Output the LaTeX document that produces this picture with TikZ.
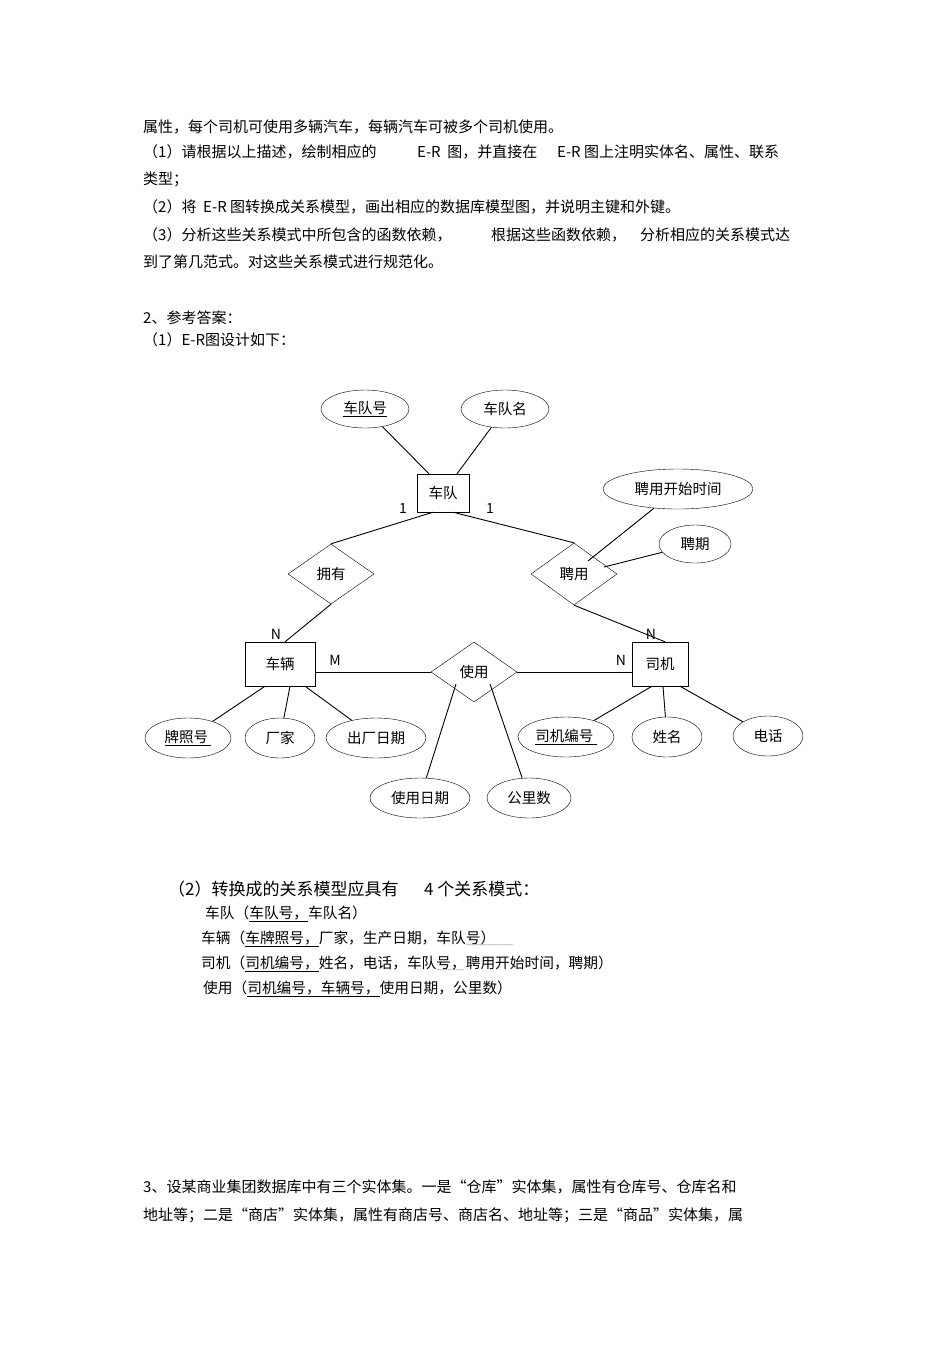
\documentclass[tikz,border=0pt]{standalone}
\usepackage{fontspec}
\setmainfont{Noto Sans CJK SC}
\usetikzlibrary{shapes.geometric}
\newcommand{\myul}[1]{\underline{#1}}
\newcommand{\mywave}[1]{\setbox0\hbox{#1}\rlap{\raisebox{-4pt}{\color{gray}\fontsize{6}{6}\selectfont\leaders\hbox to 2.5pt{\hss\char"7E\hss}\hskip\wd0}}\box0}
\tikzset{
  txt/.style={anchor=west,inner sep=0pt,font=\fontsize{15}{17}\selectfont},
  rtxt/.style={anchor=west,inner sep=0pt,font=\fontsize{14.7}{17}\selectfont},
  attr/.style={draw,ellipse,inner sep=0pt,minimum height=38pt,font=\fontsize{14.5}{16}\selectfont},
  ent/.style={draw,rectangle,inner sep=0pt,minimum height=38pt,font=\fontsize{14.5}{16}\selectfont},
  rel/.style={draw,diamond,aspect=1.45,inner sep=0pt,minimum width=86pt,minimum height=60pt,font=\fontsize{14.5}{16}\selectfont},
  card/.style={inner sep=0pt,font=\fontsize{14}{16}\selectfont},
  ln/.style={line width=0.9pt}
}
\begin{document}
\begin{tikzpicture}[x=1pt,y=-1pt]
\useasboundingbox (0,0) rectangle (950,1345);
\node[txt] (t1) at (143,127) {属性，每个司机可使用多辆汽车，每辆汽车可被多个司机使用。};
\node[txt] (t2a) at (143,152) {（1）请根据以上描述，绘制相应的};
\node[txt] (t2b) at (417,152) {E-R\ \ 图，并直接在};
\node[txt] (t2c) at (557,152) {E-R 图上注明实体名、属性、联系};
\node[txt] (t3) at (143,179) {类型；};
\node[txt] (t4) at (143,207) {（2）将 \ E-R 图转换成关系模型，画出相应的数据库模型图，并说明主键和外键。};
\node[txt] (t5a) at (143,235) {（3）分析这些关系模式中所包含的函数依赖，};
\node[txt] (t5b) at (491,235) {根据这些函数依赖，};
\node[txt] (t5c) at (640,235) {分析相应的关系模式达};
\node[txt] (t6) at (143,262) {到了第几范式。对这些关系模式进行规范化。};
\node[txt] (t7) at (143,318) {2、参考答案：};
\node[txt] (t8) at (143,340) {（1）E-R图设计如下：};

% ER
\node[attr,minimum width=88pt] (a1) at (365,409) {\myul{车队号}};
\node[attr,minimum width=88pt] (a2) at (505,409) {车队名};
\node[ent,minimum width=52pt] (cd) at (443,493) {车队};
\node[attr,minimum width=150pt,minimum height=40pt] (a3) at (678,489) {聘用开始时间};
\node[attr,minimum width=72pt] (a4) at (695,544) {聘期};
\node[rel] (yy) at (331,574) {拥有};
\node[rel,minimum height=62pt] (py) at (574,574) {聘用};
\node[ent,minimum width=70pt,minimum height=44pt] (cl) at (280,664) {车辆};
\node[ent,minimum width=56pt,minimum height=44pt] (sj) at (660,664) {司机};
\node[rel] (sy) at (474,672) {使用};
\node[attr,minimum width=86pt,minimum height=40pt] (b1) at (188,738) {\myul{牌照号\ }};
\node[attr,minimum width=70pt,minimum height=40pt] (b2) at (280,738) {厂家};
\node[attr,minimum width=100pt,minimum height=40pt] (b3) at (376,738) {出厂日期};
\node[attr,minimum width=96pt,minimum height=40pt] (c1) at (566,737) {\myul{司机编号\ }};
\node[attr,minimum width=70pt,minimum height=40pt] (c2) at (667,737) {姓名};
\node[attr,minimum width=70pt,minimum height=40pt] (c3) at (768,736) {电话};
\node[attr,minimum width=100pt,minimum height=40pt] (d1) at (420,798) {使用日期};
\node[attr,minimum width=84pt,minimum height=40pt] (d2) at (529,798) {公里数};
\node[card] (n1) at (403,508) {1};
\node[card] (n2) at (490,508) {1};
\node[card] (n3) at (276,634) {N};
\node[card] (n4) at (335,660) {M};
\node[card] (n5) at (621,660) {N};
\node[card] (n6) at (651,634) {N};
\coordinate (p1) at (588,561);
\coordinate (p2) at (604,567);

\draw[ln] (a1) -- ([xshift=-14pt]cd.north);
\draw[ln] (a2) -- ([xshift=14pt]cd.north);
\draw[ln] ([xshift=-10pt]cd.south) -- (yy.north);
\draw[ln] ([xshift=10pt]cd.south) -- (py.north);
\draw[ln] (a3) -- (p1);
\draw[ln] (a4) -- (p2);
\draw[ln] (yy.south) -- ([xshift=5pt]cl.north);
\draw[ln] (py.south) -- ([xshift=5pt]sj.north);
\draw[ln] (sy.west -| cl.east) -- (sy.west);
\draw[ln] (sy.east) -- (sy.east -| sj.west);
\draw[ln] ([xshift=-15pt]cl.south) -- (b1);
\draw[ln] ([xshift=10pt]cl.south) -- (b2);
\draw[ln] ([xshift=25pt]cl.south) -- (b3);
\draw[ln] ([xshift=-8pt]sj.south) -- (c1);
\draw[ln] ([xshift=3pt]sj.south) -- (c2);
\draw[ln] ([xshift=20pt]sj.south) -- (c3);
\draw[ln] ([xshift=-18pt,yshift=-12pt]sy.center) -- (d1);
\draw[ln] ([xshift=16pt,yshift=-12pt]sy.center) -- (d2);

\node[txt,font=\fontsize{17}{19}\selectfont] (h2) at (168,889) {（2）转换成的关系模型应具有};
\node[txt,font=\fontsize{17}{19}\selectfont] (h2b) at (424,889) {4 个关系模式：};
\node[rtxt] (r1) at (205,914) {车队（\myul{车队号，}车队名）};
\node[rtxt] (r2) at (201,939) {车辆（\myul{车牌照号，}厂家，生产日期，车队\mywave{号）\ \ \ \ \ \ }};
\node[rtxt] (r3) at (201,964) {司机（\myul{司机编号，}姓名，电话，车队\mywave{号，}聘用开始时间，聘期）};
\node[rtxt] (r4) at (203,989) {使用（\myul{司机编号，车辆号，}使用日期，公里数）};

\node[txt] (t9) at (143,1187) {3、设某商业集团数据库中有三个实体集。一是“仓库”实体集，属性有仓库号、仓库名和};
\node[txt] (t10) at (143,1215) {地址等；二是“商店”实体集，属性有商店号、商店名、地址等；三是“商品”实体集，属};
\end{tikzpicture}
\end{document}
